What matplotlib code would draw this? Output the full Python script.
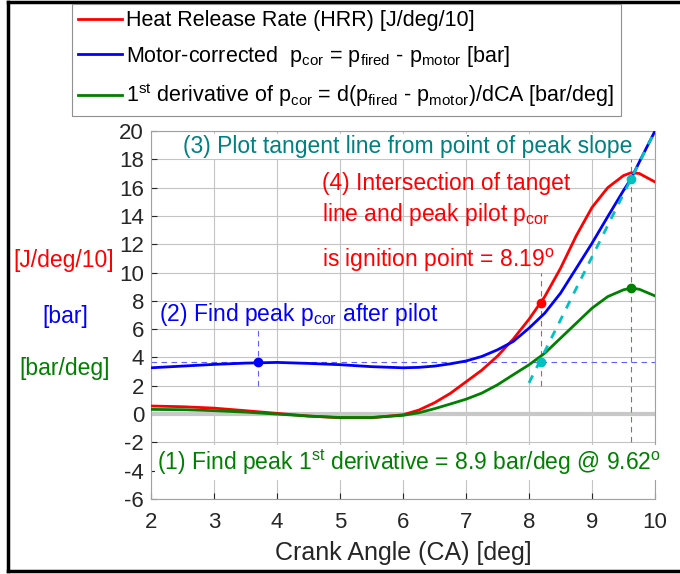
import matplotlib
matplotlib.use('Agg')

from matplotlib import pyplot as plt
from matplotlib.lines import Line2D

plt.rcParams['font.family'] = ['Liberation Sans', 'DejaVu Sans']
plt.rcParams['mathtext.fontset'] = 'custom'
plt.rcParams['mathtext.rm'] = 'Liberation Sans'
plt.rcParams['mathtext.it'] = 'Liberation Sans'
plt.rcParams['axes.unicode_minus'] = False

# crank angle samples [deg]
ca = [2.0, 2.5, 3.0, 3.5, 4.0, 4.5, 5.0, 5.5, 6.0, 6.25, 6.5, 6.75, 7.0,
      7.25, 7.5, 7.75, 8.0, 8.25, 8.5, 8.75, 9.0, 9.25, 9.5, 9.62, 9.75, 10.0]

# heat release rate [J/deg/10]
hrr = [0.57, 0.52, 0.42, 0.24, 0.05, -0.14, -0.26, -0.26, -0.05, 0.28, 0.8, 1.46, 2.28,
       3.1, 4.1, 5.3, 6.7, 8.3, 10.3, 12.6, 14.6, 16.0, 16.85, 17.05, 17.0, 16.4]

# motor-corrected pressure [bar]
pcor = [3.27, 3.39, 3.51, 3.6, 3.65, 3.58, 3.49, 3.35, 3.27, 3.3, 3.39, 3.55, 3.75,
        4.07, 4.54, 5.13, 6.07, 7.13, 8.54, 10.3, 12.07, 13.95, 15.8, 16.62, 17.8, 20.0]

# first derivative of pcor [bar/deg]
dpcor = [0.33, 0.31, 0.24, 0.14, 0.0, -0.14, -0.24, -0.24, -0.09, 0.09, 0.38, 0.71, 1.05,
         1.48, 2.07, 2.78, 3.48, 4.3, 5.36, 6.42, 7.48, 8.3, 8.78, 8.9, 8.82, 8.35]

# key points
peak_pilot_ca, peak_pilot_p = 3.7, 3.67
ign_ca, ign_hrr = 8.19, 7.84
peak_slope_ca, peak_slope, peak_slope_p = 9.62, 8.9, 16.62
tangent_x = [8.0, 10.0]
tangent_y = [peak_slope_p + peak_slope * (x - peak_slope_ca) for x in tangent_x]

fig = plt.figure(figsize=(6.8, 5.74), dpi=100)
ax = fig.add_axes([151 / 680, 1 - 499 / 574, 504 / 680, 368 / 574])

ax.axhline(0, color='#c8c8c8', lw=3, zorder=1)

# guide lines
ax.plot([2, 10], [peak_pilot_p, peak_pilot_p], '--', color='#6060ff', lw=0.8, dashes=(5, 4))
ax.plot([peak_pilot_ca, peak_pilot_ca], [2, 6], '--', color='#6060ff', lw=0.8, dashes=(5, 4))
ax.plot([ign_ca, ign_ca], [2, 10], '--', color='#ff4040', lw=0.8, dashes=(5, 4))
ax.plot([peak_slope_ca, peak_slope_ca], [-2, 18], '--', color='#40a040', lw=0.8, dashes=(5, 4))

l_hrr, = ax.plot(ca, hrr, color='#ff0000', lw=2, zorder=3)
l_p, = ax.plot(ca, pcor, color='#0000ff', lw=2, zorder=3)
l_d, = ax.plot(ca, dpcor, color='#008000', lw=2, zorder=3)
ax.plot(tangent_x, tangent_y, '--', color='#00c0c0', lw=2, dashes=(3, 3), zorder=4)

ax.plot(peak_pilot_ca, peak_pilot_p, 'o', color='#0000ff', ms=6, zorder=5)
ax.plot(ign_ca, ign_hrr, 'o', color='#ff0000', ms=6, zorder=5)
ax.plot(ign_ca, peak_pilot_p, 'o', color='#00c0c0', ms=6, zorder=5)
ax.plot(peak_slope_ca, peak_slope_p, 'o', color='#00c0c0', ms=6, zorder=5)
ax.plot(peak_slope_ca, peak_slope, 'o', color='#008000', ms=6, zorder=5)

ax.set_xlim(2, 10)
ax.set_ylim(-6, 20)
ax.set_xticks(range(2, 11))
ax.set_yticks(range(-6, 21, 2))
ax.grid(True, color='#c4c4c4', lw=0.8)
ax.set_axisbelow(True)
ax.tick_params(direction='in', length=4, labelsize=16, colors='#262626')
ax.tick_params(axis='x', pad=9)
ax.tick_params(axis='y', pad=5)
for s in ax.spines.values():
    s.set_color('#a0a0a0')
ax.set_xlabel('Crank Angle (CA) [deg]', fontsize=18, color='#262626', labelpad=6)

fs = 16.5
ax.text(2.51, 18.9, '(3) Plot tangent line from point of peak slope', color='#008080',
        fontsize=fs, va='center', zorder=6,
        bbox=dict(facecolor='white', edgecolor='none', pad=1))
ax.text(4.72, 16.3, '(4) Intersection of tanget', color='#ff0000', fontsize=fs, va='center')
ax.text(4.72, 14.1, r'line and peak pilot p$_{\mathregular{cor}}$', color='#ff0000',
        fontsize=fs, va='center')
ax.text(4.72, 10.85, r'is ignition point = 8.19$^{\mathregular{o}}$', color='#ff0000',
        fontsize=fs, va='center')
ax.text(2.12, 7.0, r'(2) Find peak p$_{\mathregular{cor}}$ after pilot', color='#0000ff',
        fontsize=fs, va='center')
ax.text(2.1, -3.4, r'(1) Find peak 1$^{\mathregular{st}}$ derivative = 8.9 bar/deg @ 9.62$^{\mathregular{o}}$',
        color='#008000', fontsize=fs, va='center', zorder=6,
        bbox=dict(facecolor='white', edgecolor='none', pad=2))

fig.text(64 / 680, 1 - 261 / 574, '[J/deg/10]', color='#ff0000', fontsize=fs, ha='center', va='center')
fig.text(65 / 680, 1 - 317 / 574, '[bar]', color='#0000ff', fontsize=fs, ha='center', va='center')
fig.text(65 / 680, 1 - 369 / 574, '[bar/deg]', color='#008000', fontsize=fs, ha='center', va='center')

labels = ['Heat Release Rate (HRR) [J/deg/10]',
          r'Motor-corrected  p$_{\mathregular{cor}}$ = p$_{\mathregular{fired}}$ - p$_{\mathregular{motor}}$ [bar]',
          r'1$^{\mathregular{st}}$ derivative of p$_{\mathregular{cor}}$ = d(p$_{\mathregular{fired}}$ - p$_{\mathregular{motor}}$)/dCA [bar/deg]']
leg = fig.legend([l_hrr, l_p, l_d], labels, loc='upper left',
                 bbox_to_anchor=(72 / 680, 1 - 4 / 574), borderaxespad=0,
                 fontsize=15.5, frameon=True, fancybox=False, framealpha=1,
                 handlelength=2.0, handletextpad=0.2, labelspacing=0.58,
                 borderpad=0.3)
leg.get_frame().set_edgecolor('#909090')
leg.get_frame().set_linewidth(0.8)

# black frame around the figure
for xs, ys in [([8 / 680, 1], [1 - 2 / 574, 1 - 2 / 574]),
               ([8 / 680, 8 / 680], [1 - 2 / 574, 1 - 571 / 574]),
               ([8 / 680, 1], [1 - 571 / 574, 1 - 571 / 574])]:
    fig.add_artist(Line2D(xs, ys, color='black', lw=2.5, transform=fig.transFigure))

plt.savefig('out.png')
